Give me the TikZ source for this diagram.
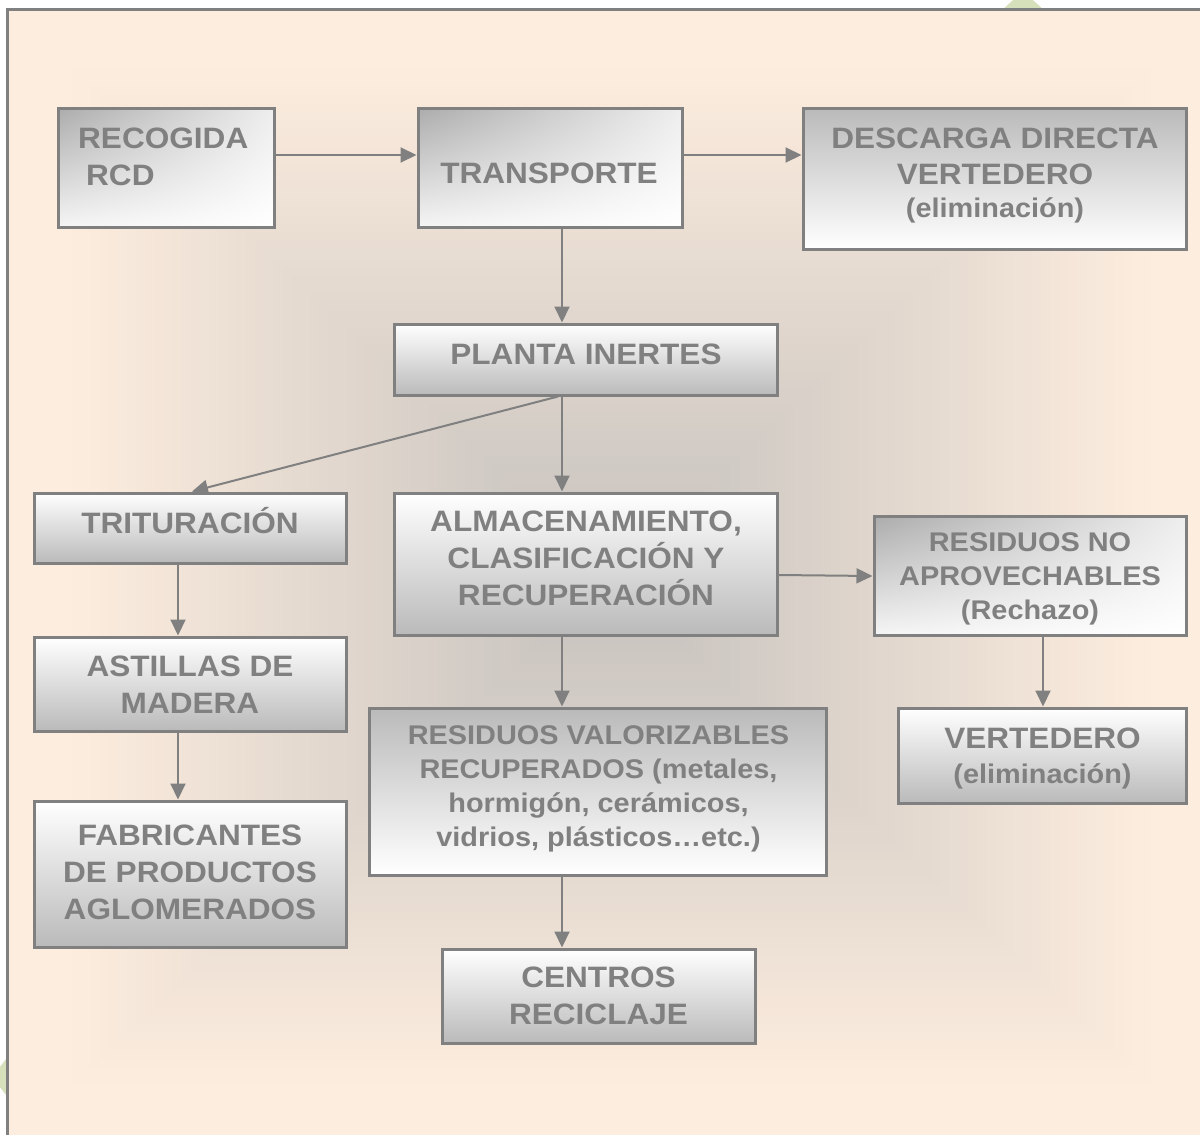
\documentclass[tikz,border=0pt]{standalone}
\usepackage{fontspec}
\usetikzlibrary{arrows.meta,shadings}
\newfontfamily\lsans{Liberation Sans}[FakeStretch=1.07]
\newcommand\txtbig{\lsans\bfseries\fontsize{29.5pt}{37pt}\selectfont}
\newcommand\txtsml{\lsans\bfseries\fontsize{27pt}{34pt}\selectfont}
\newcommand\sttop{\rule{0pt}{1em}}
\newcommand\stbot{\rule[-0.3em]{0pt}{0pt}}
\definecolor{peach}{RGB}{253,237,222}
\definecolor{bgmid}{RGB}{197,193,190}
\definecolor{lgray}{RGB}{128,128,128}
\definecolor{boxgray}{RGB}{186,186,186}
\definecolor{dkgray}{RGB}{172,172,172}
\definecolor{ltgray}{RGB}{238,238,238}
\definecolor{leaf}{RGB}{214,224,186}
\begin{document}
\begin{tikzpicture}[x=1pt, y=-1pt,
  box/.style={draw=lgray, line width=3pt, inner sep=0pt},
  wt/.style={box, top color=white, bottom color=boxgray},
  gt/.style={box, top color=boxgray, bottom color=white},
  dg/.style={box, upper left=dkgray, upper right=ltgray, lower left=white!96!black, lower right=white},
  arr/.style={draw=lgray, line width=2pt, -{Triangle[length=16pt,width=15pt]}},
  txt/.style={text=lgray, align=center, inner sep=0pt}]
\useasboundingbox (0,0) rectangle (1200,1135);
\clip (0,0) rectangle (1200,1135);
\fill[white] (0,0) rectangle (1200,1135);
% decorative leaves
\fill[leaf] (1023,-9) -- (1046,12) -- (1000,12) -- cycle;
\fill[leaf] (-8,1077) -- (10,1054) -- (10,1100) -- cycle;
% frame and background
\filldraw[fill=peach, draw=lgray, line width=3pt] (7.5,9.5) rectangle (1220,1160);
\foreach \i in {0,...,59}{
  \pgfmathsetmacro\s{1-\i/60}
  \pgfmathsetmacro\p{\i/59*100}
  \fill[bgmid!\p!peach] ({611.5-548.5*\s},{576.5-516.5*\s}) rectangle ({611.5+548.5*\s},{576.5+516.5*\s});
}
% boxes
\node[dg, minimum width=216pt, minimum height=119pt] (rec) at (166,167.5) {};
\node[dg, minimum width=264pt, minimum height=119pt] (tra) at (550,167.5) {};
\node[gt, minimum width=383pt, minimum height=141pt] (des) at (994.5,178.5) {};
\node[wt, minimum width=383pt, minimum height=71pt] (pla) at (585.5,359.5) {};
\node[wt, minimum width=383pt, minimum height=142pt] (alm) at (585.5,564) {};
\node[wt, minimum width=312pt, minimum height=70pt] (tri) at (190,528) {};
\node[wt, minimum width=312pt, minimum height=94pt] (ast) at (190,684) {};
\node[wt, minimum width=312pt, minimum height=146pt] (fab) at (190,874) {};
\node[gt, minimum width=457pt, minimum height=167pt] (val) at (597.5,791.5) {};
\node[wt, minimum width=313pt, minimum height=94pt] (cen) at (598.5,996) {};
\node[dg, minimum width=312pt, minimum height=119pt] (rno) at (1030,575.5) {};
\node[wt, minimum width=288pt, minimum height=95pt] (ver) at (1042,755.5) {};
% arrows
\draw[arr] ([yshift=12.5pt]rec.east) -- ([yshift=12.5pt]tra.west);
\draw[arr] ([yshift=12.5pt]tra.east) -- ([yshift=23.5pt]des.west);
\draw[arr] ([xshift=12pt]tra.south) -- ([xshift=-23.5pt]pla.north);
\draw[arr] ([xshift=-23.5pt]pla.south) -- ([xshift=-23.5pt]alm.north);
\draw[arr] ([xshift=-27.5pt]pla.south) -- ([xshift=2pt]tri.north);
\draw[arr] ([xshift=-12pt]tri.south) -- ([xshift=-12pt]ast.north);
\draw[arr] ([xshift=-12pt]ast.south) -- ([xshift=-12pt]fab.north);
\draw[arr] ([xshift=-23.5pt]alm.south) -- ([xshift=-35.5pt]val.north);
\draw[arr] ([xshift=-35.5pt]val.south) -- ([xshift=-36.5pt]cen.north);
\draw[arr] ([yshift=-11pt]alm.east) -- ([yshift=-0.5pt]rno.west);
\draw[arr] ([xshift=13pt]rno.south) -- ([xshift=1pt]ver.north);
% texts
\node[txt, font=\txtbig, align=left, anchor=west] (recT) at (78,156.5) {\sttop RECOGIDA\\\hspace*{8pt}RCD\stbot};
\node[txt, font=\txtbig] (traT) at (549,173.5) {\sttop TRANSPORTE\stbot};
\node[txt, font=\txtbig] (desT) at (995,172.5) {\sttop DESCARGA DIRECTA\\[-1pt]VERTEDERO\\[-4pt]{\txtsml(eliminación)\stbot}};
\node[txt, font=\txtbig] (plaT) at (586,354) {\sttop PLANTA INERTES\stbot};
\node[txt, font=\txtbig] (almT) at (586,558.5) {\sttop ALMACENAMIENTO,\\CLASIFICACIÓN Y\\RECUPERACIÓN\stbot};
\node[txt, font=\txtbig] (triT) at (190,523) {\sttop TRITURACIÓN\stbot};
\node[txt, font=\txtbig] (astT) at (190,685) {\sttop ASTILLAS DE\\MADERA\stbot};
\node[txt, font=\txtbig] (fabT) at (190,872.5) {\sttop FABRICANTES\\DE PRODUCTOS\\AGLOMERADOS\stbot};
\node[txt, font=\txtsml] (valT) at (598.5,786.5) {\sttop RESIDUOS VALORIZABLES\\RECUPERADOS (metales,\\hormigón, cerámicos,\\vidrios, plásticos…etc.)\stbot};
\node[txt, font=\txtbig] (cenT) at (598.5,996) {\sttop CENTROS\\RECICLAJE\stbot};
\node[txt, font=\txtsml] (rnoT) at (1030,576.5) {\sttop RESIDUOS NO\\APROVECHABLES\\(Rechazo)\stbot};
\node[txt, font=\txtbig] (verT) at (1042.5,755) {\sttop VERTEDERO\\[-2pt]{\txtsml(eliminación)\stbot}};
\end{tikzpicture}
\end{document}
